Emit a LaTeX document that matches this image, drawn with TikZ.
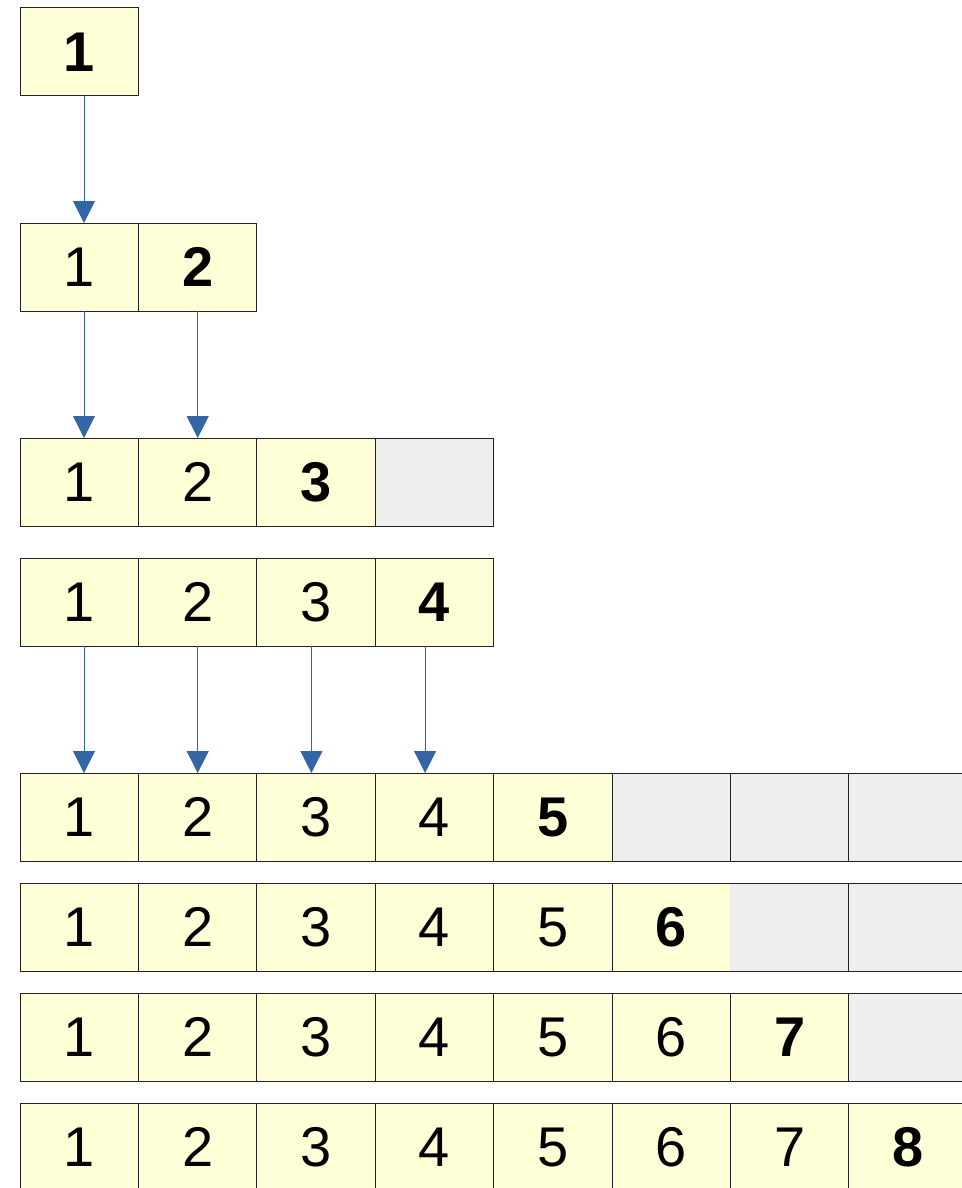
\documentclass[tikz,border=0pt]{standalone}
\usepackage{fontspec}
\setmainfont{Liberation Sans}
\usetikzlibrary{arrows.meta,calc}
\definecolor{ink}{HTML}{222222}
\definecolor{cellyel}{HTML}{FFFFD7}
\definecolor{spare}{HTML}{EEEEEE}
\definecolor{arrblue}{HTML}{3465A4}
\tikzset{
  cell/.style={draw=ink,line width=1pt,fill=cellyel,minimum width=118.4pt,minimum height=88pt,
               inner sep=0pt,outer sep=0pt,anchor=north west,text=black,
               font=\fontsize{56}{60}\selectfont},
  newcell/.style={cell,font=\fontsize{56}{60}\selectfont\bfseries},
  sparecell/.style={cell,fill=spare},
  arr/.style={-{Triangle[length=22pt,width=22pt]},line width=1pt,draw=arrblue},
}

\begin{document}
\begin{tikzpicture}[x=1pt,y=1pt]
  \useasboundingbox (0,0) rectangle (961,-1188);

  % ---------------------------------------------------------------- rows
  \foreach \r/\top/\n/\total in {1/8/1/1, 2/223/2/2, 3/438/3/4, 4/558/4/4,
                                 5/773/5/8, 6/883/6/8, 7/993/7/8, 8/1103/8/8}{
    \foreach \c in {1,...,\total}{
      \ifnum\c>\n
        \node[sparecell] (r\r-\c) at ({20+118.4*(\c-1)},-\top) {};
      \else\ifnum\c=\n
        \node[newcell] (r\r-\c) at ({20+118.4*(\c-1)},-\top) {\c};
      \else
        \node[cell] (r\r-\c) at ({20+118.4*(\c-1)},-\top) {\c};
      \fi\fi
    }
  }
  % no edge between the 6 and the first free slot
  \fill[cellyel] ($(r6-6.north east)+(-0.6,-0.5)$) rectangle ($(r6-6.south east)+(0,0.5)$);
  \fill[spare] ($(r6-7.north west)+(0,-0.5)$) rectangle ($(r6-7.south west)+(0.6,0.5)$);

  % ---------------------------------------------------------------- copies
  \foreach \a/\b/\k in {1/2/1, 2/3/1, 2/3/2, 4/5/1, 4/5/2, 4/5/3, 4/5/4}
    \draw[arr] ([xshift={(4.8-4.7*(\k-1))*1pt}]r\a-\k.south)
            -- ([xshift={(4.8-4.7*(\k-1))*1pt}]r\b-\k.north);
\end{tikzpicture}
\end{document}
